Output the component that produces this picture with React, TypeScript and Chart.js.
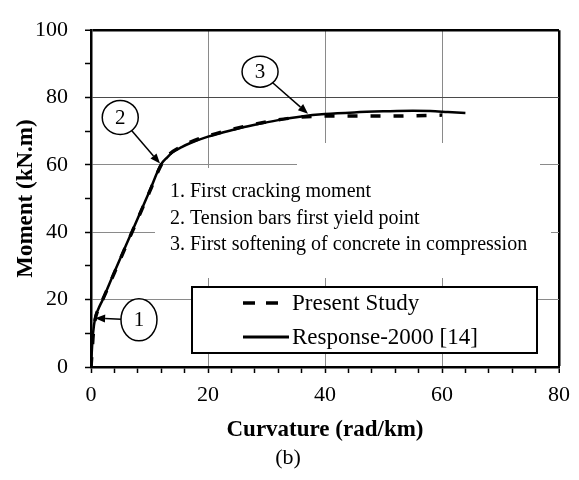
import React, { useEffect, useRef } from 'react';
import { Chart, registerables } from 'chart.js';

Chart.register(...registerables);

// ---- data ----
const presentCurvature = [0, 0.2, 0.4, 0.7, 1.2, 2, 4, 6, 8, 10, 12, 13, 14, 15.5, 17, 20, 24, 28, 32, 36, 40, 45, 50, 55, 60];
const presentMoment = [0, 5, 10, 14, 17, 20, 28, 36, 44, 52, 60, 62.5, 64, 65.5, 66.8, 68.6, 70.5, 72.1, 73.4, 74.2, 74.5, 74.5, 74.5, 74.6, 74.8];

const responseCurvature = [0, 0.15, 0.35, 0.7, 1.2, 2, 4, 6, 8, 10, 12, 13, 14, 15.5, 17, 20, 24, 28, 32, 36, 40, 45, 50, 55, 58, 61, 64];
const responseMoment = [0, 5, 10, 14.5, 17, 20, 28.2, 36.2, 44.2, 52.2, 60.2, 62.2, 63.8, 65.3, 66.5, 68.4, 70.3, 71.9, 73.3, 74.4, 75.1, 75.6, 75.9, 76.1, 76.0, 75.7, 75.4];

const seriesNames = ['Present Study', 'Response-2000 [14]'];
const xTickLabels = [0, 20, 40, 60, 80];
const yTickLabels = [0, 20, 40, 60, 80, 100];
const xTitle = 'Curvature (rad/km)';
const yTitle = 'Moment (kN.m)';
const caption = '(b)';
const notes = [
  '1. First cracking moment',
  '2. Tension bars first yield point',
  '3. First softening of concrete in compression',
];
const markerLabels = ['1', '2', '3'];
// points (curvature, moment) the numbered arrows point at
const markerTipCurvature = [0.7, 11.8, 37.1];
const markerTipMoment = [14.5, 60.4, 75.2];
// where the numbered circles sit (curvature, moment)
const markerCurvature = [8.2, 5.0, 28.9];
const markerMoment = [14.0, 74.1, 87.7];

const FONT = "'Liberation Serif', 'Times New Roman', serif";

function arrow(ctx: CanvasRenderingContext2D, x1: number, y1: number, x2: number, y2: number) {
  const ang = Math.atan2(y2 - y1, x2 - x1);
  const head = 10;
  const half = 4;
  const bx = x2 - head * Math.cos(ang);
  const by = y2 - head * Math.sin(ang);
  ctx.beginPath();
  ctx.moveTo(x1, y1);
  ctx.lineTo(bx, by);
  ctx.stroke();
  ctx.beginPath();
  ctx.moveTo(x2, y2);
  ctx.lineTo(bx + half * Math.sin(ang), by - half * Math.cos(ang));
  ctx.lineTo(bx - half * Math.sin(ang), by + half * Math.cos(ang));
  ctx.closePath();
  ctx.fill();
}

const markerRadii = [
  [18, 21],
  [18, 17],
  [18, 15.5],
];

const decorPlugin = {
  id: 'decor',
  beforeDatasetsDraw(chart: any) {
    const ctx: CanvasRenderingContext2D = chart.ctx;
    ctx.save();
    ctx.fillStyle = '#ffffff';
    // text boxes hiding grid lines
    ctx.fillRect(297, 143, 243, 135);
    ctx.fillRect(155, 168, 396, 110);
    ctx.restore();
  },
  afterDatasetsDraw(chart: any) {
    const ctx: CanvasRenderingContext2D = chart.ctx;
    const { x, y } = chart.scales;
    ctx.save();
    // notes
    ctx.fillStyle = '#000';
    ctx.font = `20px ${FONT}`;
    ctx.textBaseline = 'middle';
    ctx.textAlign = 'left';
    notes.forEach((t, i) => ctx.fillText(t, 170, 192 + i * 26.5));

    // legend
    ctx.fillStyle = '#fff';
    ctx.fillRect(192, 287, 345, 66);
    ctx.strokeStyle = '#000';
    ctx.lineWidth = 2;
    ctx.strokeRect(192, 287, 345, 66);
    ctx.lineWidth = 3.5;
    ctx.beginPath();
    ctx.moveTo(243, 303);
    ctx.lineTo(255, 303);
    ctx.moveTo(266, 303);
    ctx.lineTo(278, 303);
    ctx.stroke();
    ctx.lineWidth = 3;
    ctx.beginPath();
    ctx.moveTo(243, 337);
    ctx.lineTo(289, 337);
    ctx.stroke();
    ctx.fillStyle = '#000';
    ctx.font = `23px ${FONT}`;
    ctx.fillText(seriesNames[0], 292, 304);
    ctx.fillText(seriesNames[1], 292, 338);

    // numbered markers with arrows
    ctx.lineWidth = 1.5;
    markerLabels.forEach((lab, i) => {
      const cx = x.getPixelForValue(markerCurvature[i]);
      const cy = y.getPixelForValue(markerMoment[i]);
      const tx = x.getPixelForValue(markerTipCurvature[i]);
      const ty = y.getPixelForValue(markerTipMoment[i]);
      const [rx, ry] = markerRadii[i];
      const dx = tx - cx;
      const dy = ty - cy;
      const len = Math.hypot(dx, dy);
      const ux = dx / len;
      const uy = dy / len;
      const t = 1 / Math.sqrt((ux / rx) ** 2 + (uy / ry) ** 2);
      ctx.fillStyle = '#000';
      arrow(ctx, cx + ux * t, cy + uy * t, tx, ty);
      ctx.beginPath();
      ctx.ellipse(cx, cy, rx, ry, 0, 0, Math.PI * 2);
      ctx.fillStyle = '#fff';
      ctx.fill();
      ctx.stroke();
      ctx.fillStyle = '#000';
      ctx.font = `21px ${FONT}`;
      ctx.textAlign = 'center';
      ctx.fillText(lab, cx, cy + 1);
      ctx.textAlign = 'left';
    });

    // caption
    ctx.font = `22px ${FONT}`;
    ctx.textAlign = 'center';
    ctx.fillText(caption, 288, 458);
    ctx.restore();
  },
};

export default function App() {
  const ref = useRef<HTMLCanvasElement>(null);
  useEffect(() => {
    const present = presentCurvature.map((c, i) => ({ x: c, y: presentMoment[i] }));
    const response = responseCurvature.map((c, i) => ({ x: c, y: responseMoment[i] }));
    const chart = new Chart(ref.current as HTMLCanvasElement, {
      type: 'line',
      data: {
        datasets: [
          {
            label: seriesNames[0],
            data: present,
            borderColor: '#000',
            borderWidth: 3.5,
            borderDash: [10, 13],
            pointRadius: 0,
            cubicInterpolationMode: 'monotone',
            fill: false,
          },
          {
            label: seriesNames[1],
            data: response,
            borderColor: '#000',
            borderWidth: 2.5,
            pointRadius: 0,
            cubicInterpolationMode: 'monotone',
            fill: false,
          },
        ],
      },
      options: {
        responsive: false,
        animation: false,
        devicePixelRatio: 1,
        layout: { padding: { left: 0, right: 20, top: 16, bottom: 0 } },
        plugins: { legend: { display: false }, tooltip: { enabled: false } },
        scales: {
          x: {
            type: 'linear',
            min: 0,
            max: 80,
            afterFit: (s: any) => {
              s.height = 113;
            },
            ticks: {
              stepSize: 4,
              autoSkip: false,
              maxRotation: 0,
              padding: 9,
              color: '#000',
              font: { family: FONT, size: 22 },
              callback: (v: any) => (xTickLabels.includes(Number(v)) ? String(v) : ''),
            },
            grid: {
              color: (c: any) => {
                const v = c.tick?.value;
                if (v === 80) return '#000';
                if (v !== 0 && xTickLabels.includes(v)) return '#8a8a8a';
                return 'rgba(0,0,0,0)';
              },
              lineWidth: (c: any) => (c.tick?.value === 80 ? 2.5 : 1),
              tickColor: '#000',
              tickLength: 6,
              tickWidth: 1.5,
            },
            border: { display: true, color: '#000', width: 2.5 },
            title: {
              display: true,
              text: xTitle,
              color: '#000',
              font: { family: FONT, size: 23, weight: 'bold' },
              padding: { top: 0, bottom: 36 },
            },
          },
          y: {
            type: 'linear',
            min: 0,
            max: 100,
            afterFit: (s: any) => {
              s.width = 91;
            },
            ticks: {
              stepSize: 10,
              autoSkip: false,
              padding: 17,
              color: '#000',
              font: { family: FONT, size: 22 },
              callback: (v: any) => (yTickLabels.includes(Number(v)) ? String(v) : ''),
            },
            grid: {
              color: (c: any) => {
                const v = c.tick?.value;
                if (v === 100) return '#000';
                if (v === 80) return '#4a4a4a';
                if (v !== 0 && yTickLabels.includes(v)) return '#8a8a8a';
                return 'rgba(0,0,0,0)';
              },
              lineWidth: (c: any) => (c.tick?.value === 100 ? 2.5 : 1),
              tickColor: '#000',
              tickLength: 6,
              tickWidth: 1.5,
            },
            border: { display: true, color: '#000', width: 2.5 },
            title: {
              display: true,
              text: yTitle,
              color: '#000',
              font: { family: FONT, size: 23, weight: 'bold' },
              padding: { top: 12, bottom: 0 },
            },
          },
        },
      },
      plugins: [decorPlugin],
    } as any);
    return () => chart.destroy();
  }, []);
  return (
    <div style={{ position: 'absolute', left: 0, top: 0, width: 579, height: 480, background: '#fff' }}>
      <canvas ref={ref} width={579} height={480} style={{ display: 'block' }} />
    </div>
  );
}
